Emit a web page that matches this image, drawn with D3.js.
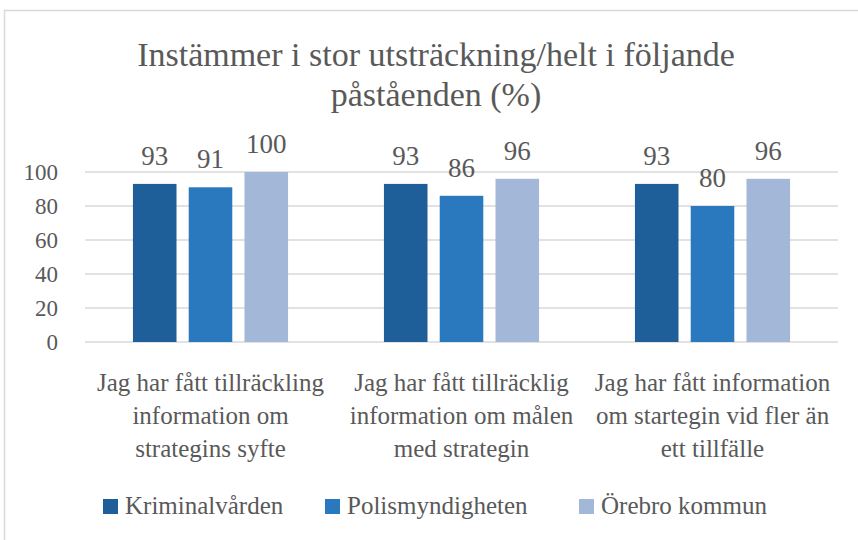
<!DOCTYPE html>
<html lang="sv">
<head>
    <meta charset="UTF-8">
    <title>Instämmer</title>
    <script src="https://cdn.jsdelivr.net/npm/d3@7"></script>
    <style>
        body { margin: 0; background: #fff; }
    </style>
</head>
<body>
    <script>
        const width = 858;
        const height = 540;
        const fontFam = '"Liberation Serif", "DejaVu Serif", serif';
        const textColor = '#595959';

        // data
        const categories = [
            ['Jag har fått tillräckling', 'information om', 'strategins syfte'],
            ['Jag har fått tillräcklig', 'information om målen', 'med strategin'],
            ['Jag har fått information', 'om startegin vid fler än', 'ett tillfälle']
        ];
        const seriesNames = ['Kriminalvården', 'Polismyndigheten', 'Örebro kommun'];
        const kriminalvarden = [93, 93, 93];
        const polismyndigheten = [91, 86, 80];
        const orebro = [100, 96, 96];
        const yTicks = [0, 20, 40, 60, 80, 100];
        const titleLines = ['Instämmer i stor utsträckning/helt i följande', 'påståenden (%)'];

        const seriesValues = [kriminalvarden, polismyndigheten, orebro];
        const colors = ['#1f5f99', '#2a78be', '#a3b7d8'];

        const plot = {left: 85, right: 838, top: 172, bottom: 342};

        const svg = d3.select('body').append('svg')
            .attr('width', width)
            .attr('height', height);

        // chart border (only top/left visible in the crop)
        svg.append('rect')
            .attr('x', 4.5).attr('y', 10.5)
            .attr('width', 900).attr('height', 600)
            .attr('fill', 'none')
            .attr('stroke', '#d9d9d9')
            .attr('stroke-width', 1.5);

        function styleText(sel, size){
            sel.style('font-family', fontFam)
               .style('font-size', size + 'px')
               .style('fill', textColor);
        }

        // title
        svg.append('g').selectAll('text')
            .data(titleLines)
            .enter().append('text')
            .attr('x', 436)
            .attr('y', (d, i) => 66 + i * 39.5)
            .attr('text-anchor', 'middle')
            .call(styleText, 34)
            .text(d => d);

        const x0 = d3.scaleBand()
            .domain(d3.range(categories.length))
            .range([plot.left, plot.right])
            .paddingInner(0.382)
            .paddingOuter(0.191);

        const x1 = d3.scaleBand()
            .domain(d3.range(seriesNames.length))
            .range([0, x0.bandwidth()])
            .paddingInner(0.219);

        const y = d3.scaleLinear()
            .domain([0, 100])
            .range([plot.bottom, plot.top]);

        // gridlines
        svg.append('g').selectAll('line')
            .data(yTicks)
            .enter().append('line')
            .attr('x1', plot.left).attr('x2', plot.right)
            .attr('y1', d => y(d)).attr('y2', d => y(d))
            .attr('stroke', '#d9d9d9')
            .attr('stroke-width', 1.3);

        // y axis labels
        const yAxis = svg.append('g')
            .attr('transform', 'translate(' + 58 + ',0)')
            .call(d3.axisLeft(y).tickValues(yTicks).tickSize(0).tickPadding(0));
        yAxis.select('.domain').remove();
        yAxis.selectAll('text').call(styleText, 23);

        // bars
        const groups = svg.append('g').selectAll('g')
            .data(categories)
            .enter().append('g')
            .attr('transform', (d, i) => 'translate(' + x0(i) + ',0)');

        groups.each(function(d, ci){
            const g = d3.select(this);
            const vals = seriesValues.map(s => s[ci]);
            g.selectAll('rect')
                .data(vals)
                .enter().append('rect')
                .attr('x', (v, si) => x1(si))
                .attr('y', v => y(v))
                .attr('width', x1.bandwidth())
                .attr('height', v => y(0) - y(v))
                .attr('fill', (v, si) => colors[si]);
            g.selectAll('.val')
                .data(vals)
                .enter().append('text')
                .attr('class', 'val')
                .attr('x', (v, si) => x1(si) + x1.bandwidth() / 2)
                .attr('y', v => y(v) - 19)
                .attr('text-anchor', 'middle')
                .call(styleText, 27)
                .text(v => v);
        });

        // category labels
        groups.each(function(lines){
            d3.select(this).selectAll('.cat')
                .data(lines)
                .enter().append('text')
                .attr('class', 'cat')
                .attr('x', x0.bandwidth() / 2)
                .attr('y', (d, i) => 391 + i * 33)
                .attr('text-anchor', 'middle')
                .call(styleText, 25)
                .text(d => d);
        });

        // legend
        const legendX = [103, 325, 579];
        const sw = 15;
        const items = svg.append('g').selectAll('g')
            .data(seriesNames)
            .enter().append('g')
            .attr('transform', (d, i) => 'translate(' + legendX[i] + ',0)');
        items.append('rect')
            .attr('width', sw).attr('height', sw)
            .attr('y', 499)
            .attr('fill', (d, i) => colors[i]);
        items.append('text')
            .attr('x', sw + 7)
            .attr('y', 514)
            .call(styleText, 25)
            .text(d => d);
    </script>
</body>
</html>
